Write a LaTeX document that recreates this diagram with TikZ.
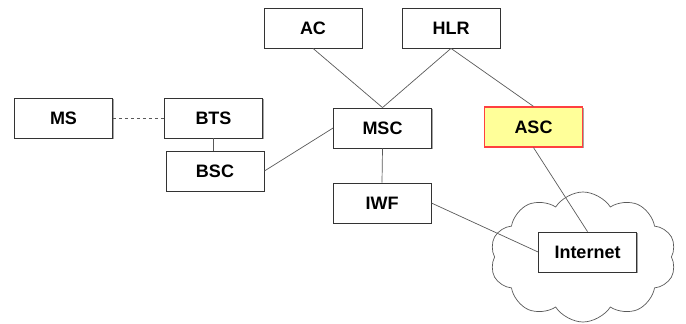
\documentclass[tikz,border=0pt]{standalone}
\usepackage{fontspec}
\setmainfont{Liberation Sans}
\usetikzlibrary{shapes.symbols,shadows}
\definecolor{ascfill}{HTML}{FFFF99}
\definecolor{ascborder}{HTML}{FF4040}
\tikzset{
  box/.style={draw=black!80, fill=white, line width=0.8pt, minimum width=98pt, minimum height=40pt,
    inner sep=0pt, font=\fontsize{18}{20}\selectfont\bfseries,
    drop shadow={shadow xshift=1.2pt, shadow yshift=-1.2pt, fill=black!35, opacity=1}},
  link/.style={draw=black!65, line width=0.7pt},
}
\begin{document}
\begin{tikzpicture}[x=1pt,y=-1pt]
\useasboundingbox (0,0) rectangle (686,324);
\node[cloud, cloud puffs=10, cloud puff arc=115, aspect=1.45, draw=black!65, line width=0.7pt,
  minimum width=186pt, minimum height=130pt, inner sep=0pt] (cloud) at (583,257) {};
\node[box] (ms) at (63.5,118) {MS};
\node[box] (bts) at (213.5,118) {BTS};
\node[box] (bsc) at (215,171) {BSC};
\node[box] (ac) at (313,28) {AC};
\node[box] (hlr) at (451,28) {HLR};
\node[box] (msc) at (382.5,128) {MSC};
\node[box, fill=ascfill, draw=ascborder, line width=1.2pt] (asc) at (533.5,127) {ASC};
\node[box] (iwf) at (382,203) {IWF};
\node[box] (inet) at (587.5,252) {Internet};
\draw[link, dashed] (ms.east) -- (bts.west);
\draw[link] (bts.south) -- (bsc.north -| bts.south);
\draw[link] (ac.south) -- (msc.north);
\draw[link] (hlr.south) -- (msc.north);
\draw[link] (hlr.south) -- (asc.north);
\draw[link] (bsc.east) -- (msc.west);
\draw[link] (msc.south) -- (iwf.north);
\draw[link] (iwf.east) -- (inet.west);
\draw[link] (asc.south) -- (inet.north);
\end{tikzpicture}
\end{document}
